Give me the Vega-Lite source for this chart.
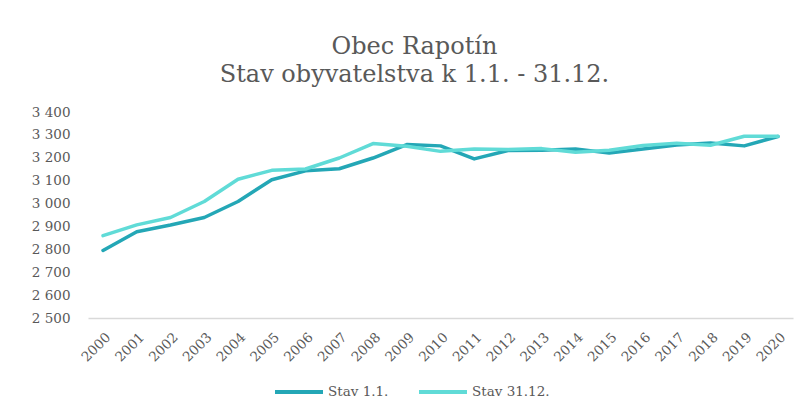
{
  "$schema": "https://vega.github.io/schema/vega-lite/v6.json",
  "width": 705,
  "height": 206,
  "autosize": "none",
  "padding": {"left": 88, "top": 112, "right": 17, "bottom": 94},
  "background": "white",
  "title": {
    "text": ["Obec Rapotín", "Stav obyvatelstva k 1.1. - 31.12."],
    "font": "DejaVu Serif",
    "fontSize": 24,
    "fontWeight": "normal",
    "color": "#595959",
    "lineHeight": 28,
    "anchor": "middle",
    "frame": "group",
    "dx": -26,
    "offset": 18
  },
  "data": {
    "values": [
      {"year": "2000", "series": "Stav 1.1.", "value": 2795},
      {"year": "2001", "series": "Stav 1.1.", "value": 2877},
      {"year": "2002", "series": "Stav 1.1.", "value": 2906},
      {"year": "2003", "series": "Stav 1.1.", "value": 2939},
      {"year": "2004", "series": "Stav 1.1.", "value": 3009},
      {"year": "2005", "series": "Stav 1.1.", "value": 3104},
      {"year": "2006", "series": "Stav 1.1.", "value": 3143},
      {"year": "2007", "series": "Stav 1.1.", "value": 3152},
      {"year": "2008", "series": "Stav 1.1.", "value": 3199},
      {"year": "2009", "series": "Stav 1.1.", "value": 3258},
      {"year": "2010", "series": "Stav 1.1.", "value": 3252},
      {"year": "2011", "series": "Stav 1.1.", "value": 3195},
      {"year": "2012", "series": "Stav 1.1.", "value": 3232},
      {"year": "2013", "series": "Stav 1.1.", "value": 3233},
      {"year": "2014", "series": "Stav 1.1.", "value": 3238},
      {"year": "2015", "series": "Stav 1.1.", "value": 3221},
      {"year": "2016", "series": "Stav 1.1.", "value": 3238},
      {"year": "2017", "series": "Stav 1.1.", "value": 3256},
      {"year": "2018", "series": "Stav 1.1.", "value": 3265},
      {"year": "2019", "series": "Stav 1.1.", "value": 3252},
      {"year": "2020", "series": "Stav 1.1.", "value": 3293},
      {"year": "2000", "series": "Stav 31.12.", "value": 2860},
      {"year": "2001", "series": "Stav 31.12.", "value": 2907},
      {"year": "2002", "series": "Stav 31.12.", "value": 2939},
      {"year": "2003", "series": "Stav 31.12.", "value": 3009},
      {"year": "2004", "series": "Stav 31.12.", "value": 3106},
      {"year": "2005", "series": "Stav 31.12.", "value": 3145},
      {"year": "2006", "series": "Stav 31.12.", "value": 3151},
      {"year": "2007", "series": "Stav 31.12.", "value": 3199},
      {"year": "2008", "series": "Stav 31.12.", "value": 3262},
      {"year": "2009", "series": "Stav 31.12.", "value": 3250},
      {"year": "2010", "series": "Stav 31.12.", "value": 3228},
      {"year": "2011", "series": "Stav 31.12.", "value": 3238},
      {"year": "2012", "series": "Stav 31.12.", "value": 3236},
      {"year": "2013", "series": "Stav 31.12.", "value": 3240},
      {"year": "2014", "series": "Stav 31.12.", "value": 3224},
      {"year": "2015", "series": "Stav 31.12.", "value": 3233},
      {"year": "2016", "series": "Stav 31.12.", "value": 3254},
      {"year": "2017", "series": "Stav 31.12.", "value": 3264},
      {"year": "2018", "series": "Stav 31.12.", "value": 3255},
      {"year": "2019", "series": "Stav 31.12.", "value": 3294},
      {"year": "2020", "series": "Stav 31.12.", "value": 3294}
    ]
  },
  "mark": {"type": "line", "strokeWidth": 3.5, "strokeJoin": "round", "strokeCap": "round"},
  "encoding": {
    "x": {
      "field": "year",
      "type": "ordinal",
      "scale": {"type": "point", "padding": 0.445},
      "axis": {
        "title": null,
        "labelAngle": -45,
        "labelFont": "DejaVu Serif",
        "labelFontSize": 13.5,
        "labelColor": "#595959",
        "labelPadding": 12,
        "ticks": false,
        "domain": true,
        "domainColor": "#d9d9d9",
        "domainWidth": 1.5,
        "grid": false
      }
    },
    "y": {
      "field": "value",
      "type": "quantitative",
      "scale": {"domain": [2500, 3400], "nice": false, "zero": false},
      "axis": {
        "title": null,
        "values": [2500, 2600, 2700, 2800, 2900, 3000, 3100, 3200, 3300, 3400],
        "labelExpr": "replace(format(datum.value, ','), ',', ' ')",
        "labelFont": "DejaVu Serif",
        "labelFontSize": 13.5,
        "labelColor": "#595959",
        "labelPadding": 18,
        "ticks": false,
        "domain": false,
        "grid": false
      }
    },
    "color": {
      "field": "series",
      "type": "nominal",
      "scale": {"domain": ["Stav 1.1.", "Stav 31.12."], "range": ["#24a7b6", "#60dbd7"]},
      "legend": {
        "title": null,
        "orient": "none",
        "direction": "horizontal",
        "legendX": 185,
        "legendY": 254,
        "padding": 0,
        "symbolType": "stroke",
        "symbolSize": 2304,
        "symbolStrokeWidth": 4,
        "labelFont": "DejaVu Serif",
        "labelFontSize": 13.5,
        "labelColor": "#595959",
        "labelOffset": 3,
        "columnPadding": 22
      }
    }
  },
  "config": {"view": {"stroke": null}}
}
